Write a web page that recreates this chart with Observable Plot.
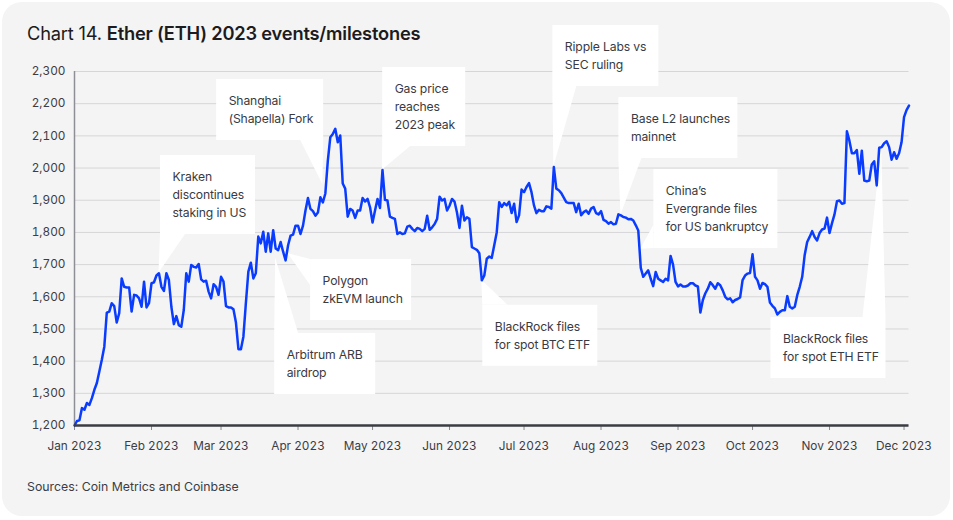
<!DOCTYPE html>
<html><head><meta charset="utf-8">
<script src="https://cdn.jsdelivr.net/npm/d3@7"></script>
<script src="https://cdn.jsdelivr.net/npm/@observablehq/plot@0.6"></script>
<style>
body{margin:0;background:#fff;font-family:Inter,"Noto Sans",sans-serif;}
#panel{position:absolute;left:2px;top:2px;width:948px;height:514px;background:#f4f4f4;border-radius:20px;}
#title{position:absolute;left:27px;top:22px;font-size:18.3px;color:#1b1b20;white-space:nowrap;letter-spacing:-0.2px;}
#title b{font-weight:600;}
#chart{position:absolute;left:0;top:0;}
#source{position:absolute;left:27px;top:479px;font-size:12.3px;color:#3c3c44;white-space:nowrap;}
</style></head>
<body>
<div id="panel"></div>
<div id="chart"></div>
<div id="title">Chart 14. <b>Ether (ETH) 2023 events/milestones</b></div>
<div id="source">Sources: Coin Metrics and Coinbase</div>
<script>
// Daily ETH price (USD), starting 2023-01-01
const startDate = "2023-01-01";
const prices = [
1200,1214,1216,1254,1249,1270,1264,1285,1311,1332,
1368,1404,1445,1551,1554,1580,1571,1520,1549,1657,
1631,1629,1629,1554,1606,1604,1595,1569,1647,1567,
1580,1642,1645,1666,1673,1631,1618,1673,1652,1569,
1515,1540,1512,1507,1559,1673,1647,1699,1693,1691,
1702,1654,1647,1650,1616,1595,1639,1631,1606,1662,
1647,1571,1567,1567,1561,1520,1437,1437,1476,1580,
1678,1706,1657,1673,1787,1766,1802,1740,1797,1740,
1807,1750,1745,1770,1740,1713,1760,1790,1793,1821,
1821,1795,1821,1868,1907,1873,1866,1852,1862,1909,
1893,1921,2023,2096,2106,2122,2080,2101,1952,1936,
1849,1873,1868,1845,1868,1868,1907,1896,1904,1878,
1831,1868,1904,1876,1994,1901,1899,1849,1845,1842,
1795,1800,1795,1797,1818,1821,1811,1804,1814,1811,
1804,1811,1852,1808,1816,1826,1842,1911,1899,1904,
1868,1883,1904,1896,1862,1814,1883,1837,1847,1842,
1754,1750,1746,1735,1651,1666,1718,1725,1721,1760,
1800,1894,1879,1891,1884,1895,1860,1889,1832,1853,
1933,1925,1941,1953,1925,1884,1860,1870,1866,1866,
1881,1879,1874,2003,1936,1931,1922,1908,1894,1891,
1891,1891,1863,1889,1853,1863,1868,1858,1874,1879,
1860,1856,1866,1839,1835,1827,1832,1825,1827,1856,
1853,1848,1846,1841,1842,1837,1822,1806,1690,1662,
1672,1682,1656,1633,1677,1656,1651,1646,1656,1651,
1727,1700,1646,1632,1638,1632,1632,1635,1642,1642,
1635,1632,1551,1590,1611,1625,1645,1636,1625,1642,
1636,1620,1600,1592,1595,1583,1590,1593,1598,1652,
1666,1672,1674,1732,1662,1651,1625,1643,1639,1631,
1582,1572,1564,1545,1553,1558,1558,1602,1569,1564,
1569,1605,1631,1662,1730,1770,1786,1804,1786,1775,
1798,1809,1812,1846,1798,1829,1856,1897,1899,1889,
1891,2114,2085,2046,2046,2056,1982,2054,1961,1959,
1961,2011,2021,1946,2063,2065,2077,2083,2065,2026,
2049,2029,2046,2080,2158,2180,2194
];
const monthTicks = ["2023-01-01","2023-02-01","2023-03-01","2023-04-01","2023-05-01","2023-06-01",
  "2023-07-01","2023-08-01","2023-09-01","2023-10-01","2023-11-01","2023-12-01"];
const yTicks = [1200,1300,1400,1500,1600,1700,1800,1900,2000,2100,2200,2300];

const eventLabels = [
  ["Kraken","discontinues","staking in US"],
  ["Shanghai","(Shapella) Fork"],
  ["Gas price","reaches","2023 peak"],
  ["Ripple Labs vs","SEC ruling"],
  ["Base L2 launches","mainnet"],
  ["China\u2019s","Evergrande files","for US bankruptcy"],
  ["Polygon","zkEVM launch"],
  ["Arbitrum ARB","airdrop"],
  ["BlackRock files","for spot BTC ETF"],
  ["BlackRock files","for spot ETH ETF"]
];
const eventDates = ["2023-02-04","2023-04-11","2023-05-05","2023-07-13","2023-08-09",
  "2023-08-17","2023-03-28","2023-03-23","2023-06-14","2023-11-22"];
const eventValues = [1673,1949,1994,2003,1853,1748,1734,1720,1651,2060];

// Callout layout (pixels relative to the event point): box [dx,dy,w,h], pointer base relative to box
const calloutLayout = [
  {box:[1.6,-117.8,95,79], base:[[0,79],[25,79]]},
  {box:[-106.2,-105,107,61], base:[[84,61],[107,61]]},
  {box:[0.2,-102.5,83,79], base:[[0,79],[28,79]]},
  {box:[-1,-141.6,106,61], base:[[0,61],[24,61]]},
  {box:[-2,-117.8,119,61], base:[[0,61],[23,61]]},
  {box:[13.1,-79.6,124,79], base:[[0,56],[0,79]]},
  {box:[22.5,5.8,101,61], base:[[0,0],[0,26]]},
  {box:[-1,75.4,101,61], base:[[0,0],[24,0]]},
  {box:[1,24.9,115,61], base:[[0,0],[25,0]]},
  {box:[-110.7,168.8,115,61], base:[[92,0],[115,0]]}
];

const parse = d3.utcParse("%Y-%m-%d");
const start = parse(startDate);
const series = prices.map((p, i) => ({date: d3.utcDay.offset(start, i), price: p}));
const end = series[series.length - 1].date;
const months = monthTicks.map(parse);

const plot = Plot.plot({
  width: 953, height: 470,
  marginLeft: 74, marginRight: 44.5, marginTop: 71, marginBottom: 45,
  style: {background: "transparent", fontFamily: "Inter, sans-serif", fontSize: "12px", color: "#3d3d45", overflow: "visible"},
  x: {type: "utc", domain: [start, end]},
  y: {domain: [1200, 2300]},
  marks: [
    Plot.gridY(yTicks, {stroke: "#d6d6d8", strokeOpacity: 1, strokeWidth: 1}),
    Plot.axisY(yTicks, {tickFormat: d3.format(","), tickSize: 0, tickPadding: 9, label: null, fill: "#3d3d45", fontSize: 11.8}),
    Plot.axisX(months, {tickFormat: d3.utcFormat("%b %Y"), tickSize: 5, tickPadding: 11, label: null, stroke: "#8a8a92", fill: "#3d3d45", fontSize: 11.8}),
    Plot.ruleX([start], {stroke: "#8e8e96", strokeWidth: 1.5}),
    Plot.line(series, {x: "date", y: "price", stroke: "#0a3cff", strokeWidth: 2.5, strokeLinejoin: "round"}),
    Plot.ruleY([1200], {stroke: "#3b3b45", strokeWidth: 2.5})
  ]
});
document.getElementById("chart").appendChild(plot);

// Callouts drawn with the plot's own scales
const xs = plot.scale("x"), ys = plot.scale("y");
const lineG = plot.querySelector('g[aria-label="line"]');
const annG = d3.create("svg:g").attr("aria-label", "callouts").node();
plot.insertBefore(annG, lineG);
const g = d3.select(annG);
eventLabels.forEach((lines, i) => {
  const ax = xs.apply(parse(eventDates[i]));
  const ay = ys.apply(eventValues[i]);
  const L = calloutLayout[i];
  const bx = ax + L.box[0], by = ay + L.box[1], bw = L.box[2], bh = L.box[3];
  g.append("polygon")
    .attr("points", [[ax, ay], [bx + L.base[0][0], by + L.base[0][1]], [bx + L.base[1][0], by + L.base[1][1]]].map(p => p.join(",")).join(" "))
    .attr("fill", "#fff");
  g.append("rect").attr("x", bx).attr("y", by).attr("width", bw).attr("height", bh).attr("fill", "#fff");
  const t = g.append("text").attr("font-size", 12.2).attr("fill", "#3a3a42")
    .attr("font-family", "Inter, sans-serif").attr("text-anchor", "start").attr("letter-spacing", "-0.15");
  lines.forEach((s, j) => {
    t.append("tspan").attr("x", bx + 12.5).attr("y", by + 22 + j * 18).attr("dy", "0.35em").text(s);
  });
});
</script>
</body></html>
